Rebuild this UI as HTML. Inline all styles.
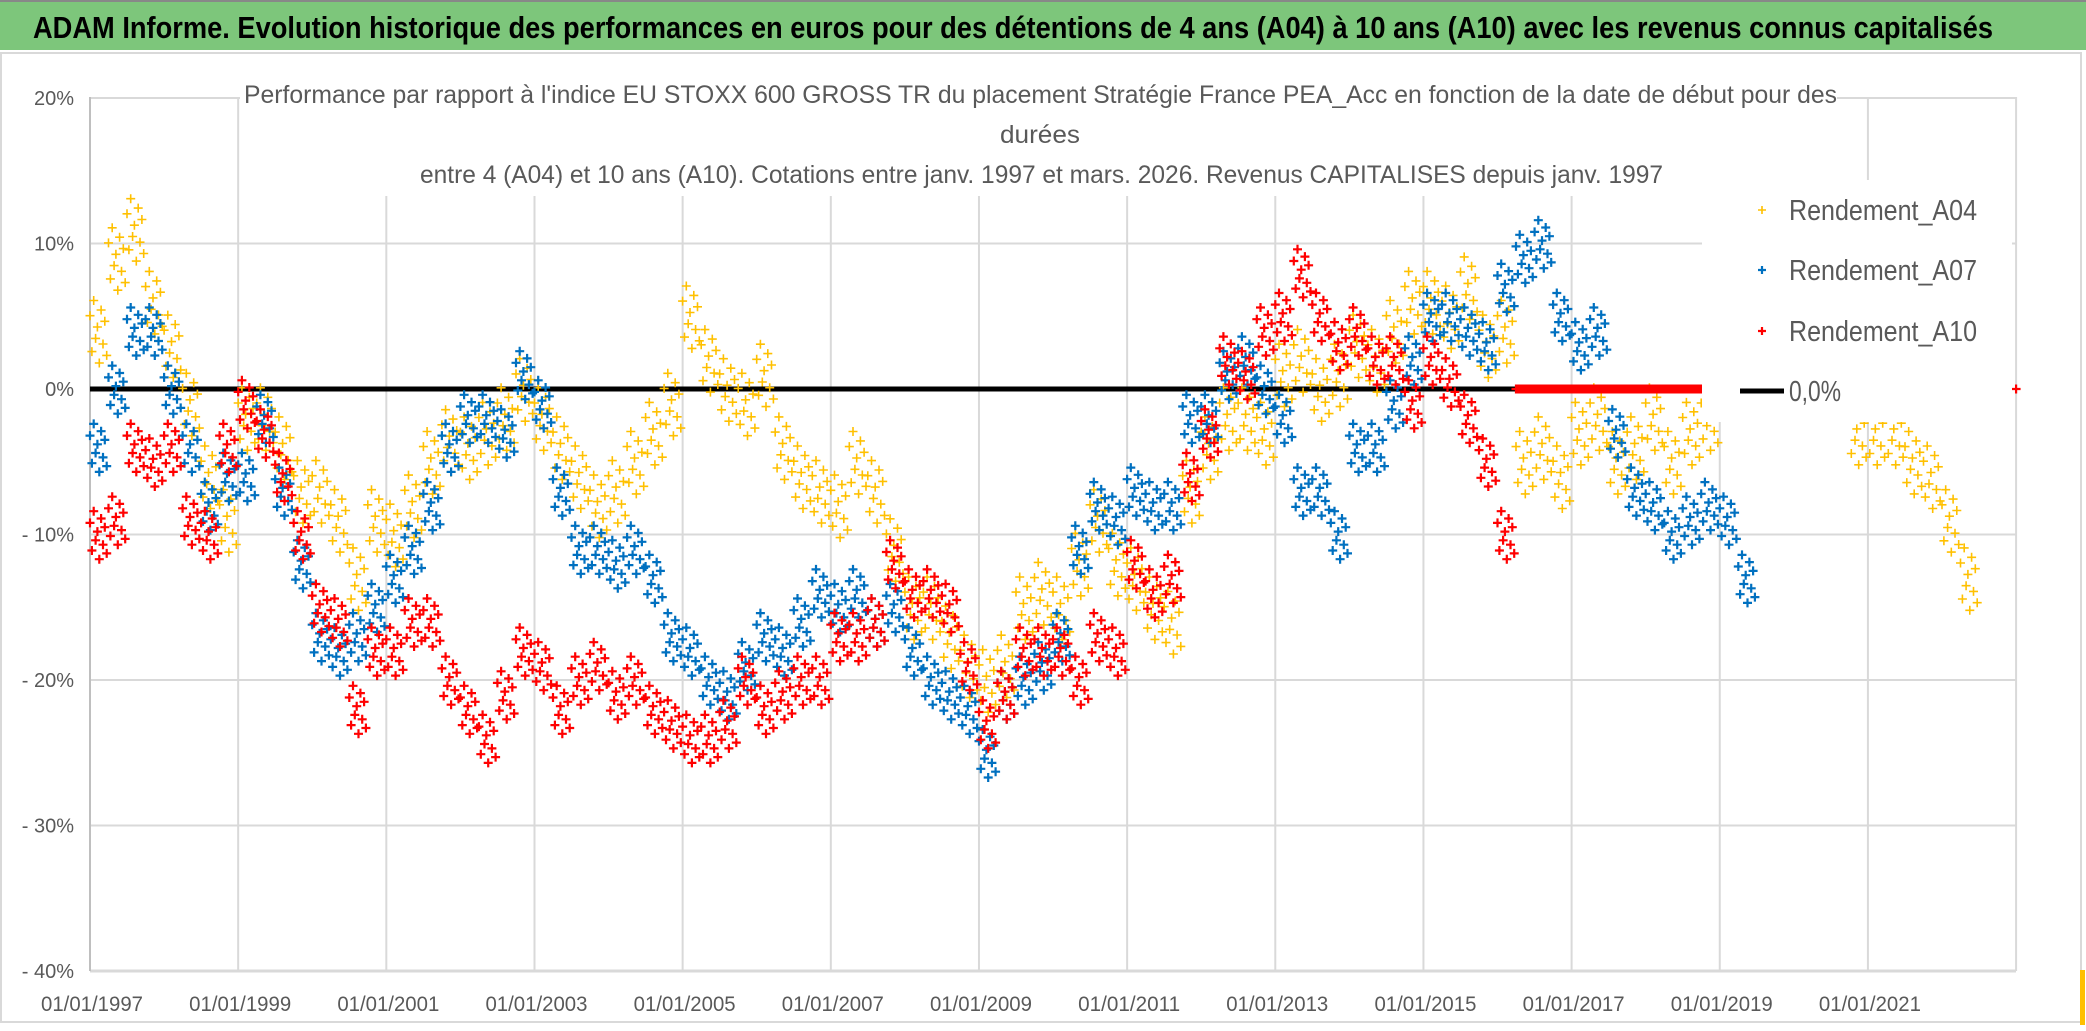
<!DOCTYPE html>
<html><head><meta charset="utf-8">
<style>
html,body{margin:0;padding:0;background:#fff;}
svg{display:block;font-family:"Liberation Sans Narrow","Liberation Sans",sans-serif;}
</style></head>
<body>
<svg id="chart" width="2086" height="1031" viewBox="0 0 2086 1031" xmlns="http://www.w3.org/2000/svg">
  <rect x="0" y="0" width="2086" height="1031" fill="#fff"/>
  <rect x="0" y="0" width="2086" height="50" fill="#7dc67b"/>
  <rect x="0" y="0" width="2086" height="2" fill="#888"/>
  <text x="33" y="38" font-size="31" font-weight="bold" fill="#000" textLength="1960" lengthAdjust="spacingAndGlyphs">ADAM Informe. Evolution historique des performances en euros pour des détentions de 4 ans (A04) à 10 ans (A10) avec les revenus connus capitalisés</text>
  <rect x="1" y="53" width="2080" height="969" fill="none" stroke="#d9d9d9" stroke-width="2"/>
  <rect x="2080" y="970" width="5" height="55" fill="#ffc000"/>
  <g id="grid"></g>
  <g id="yticks"></g>
  <g id="xticks"></g>
  <line id="zero" stroke="#000" stroke-width="5"/>
  <g id="series"></g>
  <rect x="240" y="80" width="1597" height="116" fill="#fff"/>
  <g fill="#595959" font-size="25">
    <text x="244" y="103" textLength="1593" lengthAdjust="spacingAndGlyphs">Performance par rapport à l'indice EU STOXX 600 GROSS TR  du placement Stratégie France PEA_Acc en fonction de la date de début pour des</text>
    <text x="1000" y="143" textLength="80" lengthAdjust="spacingAndGlyphs">durées</text>
    <text x="420" y="183" textLength="1243" lengthAdjust="spacingAndGlyphs">entre 4 (A04) et 10 ans (A10). Cotations entre janv. 1997 et mars. 2026. Revenus CAPITALISES depuis janv. 1997</text>
  </g>
  <rect x="1702" y="180" width="310" height="242" fill="#fff"/>
  <g id="legend" fill="#595959" font-size="29">
    <g>
      <path d="M1758 210h8M1762 206v8" stroke="#ffc000" stroke-width="1.6"/>
      <text x="1789" y="220" textLength="188" lengthAdjust="spacingAndGlyphs">Rendement_A04</text>
    </g>
    <g>
      <path d="M1758 270h8M1762 266v8" stroke="#0070c0" stroke-width="2.2"/>
      <text x="1789" y="280" textLength="188" lengthAdjust="spacingAndGlyphs">Rendement_A07</text>
    </g>
    <g>
      <path d="M1758 331h8M1762 327v8" stroke="#ff0000" stroke-width="2.2"/>
      <text x="1789" y="341" textLength="188" lengthAdjust="spacingAndGlyphs">Rendement_A10</text>
    </g>
    <g>
      <line x1="1740" y1="391" x2="1784" y2="391" stroke="#000" stroke-width="5"/>
      <text x="1789" y="401" textLength="52" lengthAdjust="spacingAndGlyphs">0,0%</text>
    </g>
  </g>
</svg>
<script>
// ---- data ----
const yTickValues = [20, 10, 0, -10, -20, -30, -40];
const yTickLabels = ["20%", "10%", "0%", "- 10%", "- 20%", "- 30%", "- 40%"];
const xTickYears = [1997, 1999, 2001, 2003, 2005, 2007, 2009, 2011, 2013, 2015, 2017, 2019, 2021];
const xTickLabels = ["01/01/1997","01/01/1999","01/01/2001","01/01/2003","01/01/2005","01/01/2007","01/01/2009","01/01/2011","01/01/2013","01/01/2015","01/01/2017","01/01/2019","01/01/2021"];
const seriesStart = 1997.0;
const seriesStep = 0.25;
const a04Values = [4,9,11,6, 3,-1,-6,-9, -2,-2,-4,-7, -7,-9,-13,-9, -10,-8,-5,-3.5, -4,-3,-2,0,
  -2,-4,-6,-8, -7,-5,-3,-1, 5,2,0,-1, 1,-4,-6,-7, -8,-5,-7,-11, -15,-15,-17,-19,
  -20,-19,-15,-14, -15,-12,-9,-12, -13,-15,-16,-7, -4,-2,-2,-3, 1,2,0,1, 3,2,4,6,
  6,5,7,3, 4,-5,-4,-6, -3,-2,-5,-4, -2,-5,-3,-2, 1,1,1,1, 1,1,1,-3, -3,-3,-5,-6, -9,-13];
const a07Values = [-4,0,4,4, 0,-4,-8,-6, -6,-2,-7,-12, -17,-18,-17,-15, -13,-11,-8,-4, -2,-2,-3,1,
  -1,-7,-11,-11, -12,-11,-13,-17, -18,-20,-21,-19, -17,-18,-16,-14, -15,-14,-16,-15,
  -18,-20,-21,-22, -25,-21,-20,-19, -17,-11,-8,-9, -7,-8,-8,-2, -2,1,2,0, -2,-7,-7,-10,
  -4,-4,-1,2, 5,5,4,3, 7,9,10,5, 3,4,-3,-7, -8,-10,-9,-8, -9,-13];
const a10Values = [-10,-9,-4,-5, -4,-9,-10,-4, -1,-3,-6,-10, -15,-16,-22,-18, -18,-16,-16,-20,
  -22,-24,-21,-18, -19,-22,-20,-19, -21,-20,-22,-23, -24,-24,-23,-20, -22,-21,-20,-20,
  -17,-17,-16,-12, -14,-14,-15,-19, -23,-21,-18,-18, -18,-20,-17,-18, -12,-14,-13,-6,
  -3,2,1,4, 5,8,5,3, 4,2,2,-1, 2,0.5,-2,-5, -10,0,0,0, 0,0,0,0, 0,0,0,0];
const a10ExtraYears = [2023.0];
const a10ExtraValues = [0];

// ---- layout ----
const X0 = 90, PXYEAR = 74.08, Y0 = 389, PXPCT = 14.55;
const PLOT_L = 90, PLOT_R = 2016, PLOT_T = 97, PLOT_B = 971;
const xs = t => X0 + (t - 1997) * PXYEAR;
const ys = v => Y0 - v * PXPCT;
const NS = "http://www.w3.org/2000/svg";
function mk(tag, parent) { const e = document.createElementNS(NS, tag); parent.appendChild(e); return e; }

const grid = document.getElementById('grid');
yTickValues.forEach((v, i) => {
  const l = mk('line', grid);
  
  
  l.setAttribute('x1', PLOT_L); l.setAttribute('x2', PLOT_R);
  l.setAttribute('y1', ys(v)); l.setAttribute('y2', ys(v));
  l.setAttribute('stroke', '#d9d9d9'); l.setAttribute('stroke-width', v === -40 ? 3 : 2);
  const t = mk('text', document.getElementById('yticks'));
  
  
  t.setAttribute('x', 74); t.setAttribute('y', ys(v) + 7);
  t.setAttribute('text-anchor', 'end'); t.setAttribute('font-size', '20'); t.setAttribute('fill', '#595959');
  t.textContent = yTickLabels[i];
});
const vlineYears = xTickYears.concat([2023]);
vlineYears.forEach(yr => {
  const l = mk('line', grid);
  
  
  l.setAttribute('x1', xs(yr)); l.setAttribute('x2', xs(yr));
  l.setAttribute('y1', PLOT_T); l.setAttribute('y2', PLOT_B);
  l.setAttribute('stroke', yr === 1997 ? '#bfbfbf' : '#d9d9d9'); l.setAttribute('stroke-width', 2);
});
xTickYears.forEach((yr, i) => {
  const t = mk('text', document.getElementById('xticks'));
  
  
  t.setAttribute('x', xs(yr) + 2); t.setAttribute('y', 1011);
  t.setAttribute('text-anchor', 'middle'); t.setAttribute('font-size', '21'); t.setAttribute('fill', '#595959');
  t.setAttribute('textLength', '102'); t.setAttribute('lengthAdjust', 'spacingAndGlyphs');
  t.textContent = xTickLabels[i];
});
const z = document.getElementById('zero');
z.setAttribute('x1', PLOT_L); z.setAttribute('x2', 1702);
z.setAttribute('y1', ys(0)); z.setAttribute('y2', ys(0));

// ---- scatter series ----
const clusterDy = [0.8, -1.1, 1.6, -0.4, 0.2, -1.7, 1.1, -0.7, 0.5, -1.3];
const seriesLayer = document.getElementById('series');
function drawSeries(values, color, sw, spread, name, flatZero) {
  let d = '';
  const n = clusterDy.length;
  values.forEach((v, i) => {
    const t = seriesStart + i * seriesStep;
    for (let k = 0; k < n; k++) {
      const tx = t + k * seriesStep / n;
      const vy = (flatZero && v === 0) ? v : v + clusterDy[k] * spread;
      const x = xs(tx), y = ys(vy);
      d += 'M' + (x - 4.5).toFixed(1) + ' ' + y.toFixed(1) + 'h9M' + x.toFixed(1) + ' ' + (y - 4.5).toFixed(1) + 'v9';
    }
  });
  const p = mk('path', seriesLayer);
  
  
  p.setAttribute('d', d); p.setAttribute('stroke', color); p.setAttribute('stroke-width', sw); p.setAttribute('fill', 'none');
  return p;
}
drawSeries(a04Values, '#ffc000', 1.6, 1.3, 'series-a04', false);
drawSeries(a07Values, '#0070c0', 2.2, 1.0, 'series-a07', false);
drawSeries(a10Values, '#ff0000', 2.2, 1.0, 'series-a10', true);
let dx = '';
a10ExtraYears.forEach((yr, i) => {
  const x = xs(yr), y = ys(a10ExtraValues[i]);
  dx += 'M' + (x - 4.5) + ' ' + y + 'h9M' + x + ' ' + (y - 4.5) + 'v9';
});
const pe = mk('path', seriesLayer);


pe.setAttribute('d', dx); pe.setAttribute('stroke', '#ff0000'); pe.setAttribute('stroke-width', 2.2);
</script>
</body></html>
